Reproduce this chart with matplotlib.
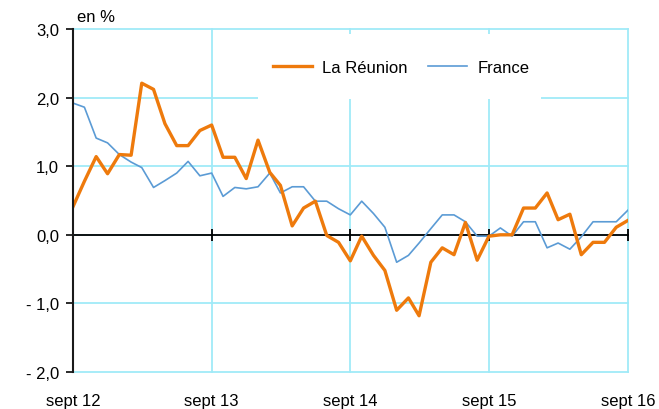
import matplotlib
matplotlib.use("Agg")
import matplotlib.pyplot as plt
import matplotlib.patches as patches
import pandas as pd

# =========================
# Data (monthly, sept 12 -> sept 16)
# =========================
start_month = "2012-09-01"
end_month = "2016-09-01"
reunion = [0.41, 0.78, 1.14, 0.89, 1.17, 1.16, 2.21, 2.12, 1.62, 1.30,
           1.30, 1.52, 1.60, 1.13, 1.13, 0.82, 1.38, 0.91, 0.72, 0.13,
           0.39, 0.49, -0.01, -0.11, -0.38, -0.02, -0.30, -0.52, -1.10, -0.92,
           -1.18, -0.40, -0.19, -0.29, 0.18, -0.37, -0.02, 0.00, 0.00, 0.39,
           0.39, 0.61, 0.22, 0.30, -0.29, -0.11, -0.11, 0.11, 0.21]
france = [1.92, 1.86, 1.41, 1.34, 1.17, 1.06, 0.98, 0.69, 0.79, 0.90,
          1.07, 0.86, 0.90, 0.56, 0.69, 0.67, 0.70, 0.90, 0.61, 0.70,
          0.70, 0.49, 0.49, 0.38, 0.29, 0.49, 0.31, 0.11, -0.40, -0.30,
          -0.12, 0.09, 0.29, 0.29, 0.19, -0.02, -0.02, 0.10, -0.02, 0.19,
          0.19, -0.19, -0.12, -0.21, -0.03, 0.19, 0.19, 0.19, 0.36]
year_labels = ["sept 12", "sept 13", "sept 14", "sept 15", "sept 16"]
y_ticks = [-2, -1, 0, 1, 2, 3]
y_labels = ["- 2,0", "- 1,0", "0,0", "1,0", "2,0", "3,0"]

months = pd.date_range(start_month, end_month, freq="MS")
years = pd.date_range(start_month, end_month, freq="12MS")

# =========================
# Style
# =========================
plt.rcParams["font.family"] = ["Liberation Sans", "DejaVu Sans"]
FS = 12
ORANGE = "#EE7A0C"
BLUE = "#5B9BD5"
GRID = "#A0EAF8"

fig = plt.figure(figsize=(6.59, 4.10), dpi=100)
ax = fig.add_axes([73/659, 37/410, 555/659, 343/410])

ax.set_xlim(months[0], months[-1])
ax.set_ylim(-2, 3)

# grid (edges too, so no clipping)
for y in y_ticks:
    ax.axhline(y, color=GRID, lw=1.3, zorder=1, clip_on=False)
for d in years:
    ax.axvline(d, color=GRID, lw=1.3, zorder=1, clip_on=False)

# white box behind the legend
ax.add_patch(patches.Rectangle((0.333, 0.796), 0.51, 0.19, transform=ax.transAxes,
                               facecolor="white", edgecolor="none", zorder=2))

# zero line with year ticks
ax.axhline(0, color="black", lw=1.3, zorder=3, clip_on=False)
ax.plot(years, [0]*len(years), ls="none", marker="|", ms=8, mew=1.3,
        color="black", zorder=3, clip_on=False)

ax.plot(months, france, color=BLUE, lw=1.2, label="France", zorder=4)
ax.plot(months, reunion, color=ORANGE, lw=2.4, label="La Réunion", zorder=5)

# spines
for s in ["top", "right", "bottom"]:
    ax.spines[s].set_visible(False)
ax.spines["left"].set_color("#1a1a1a")
ax.spines["left"].set_linewidth(1.5)
ax.spines["left"].set_zorder(6)

ax.set_yticks(y_ticks)
ax.set_yticklabels(y_labels, fontsize=FS)
ax.tick_params(axis="y", direction="out", length=5, width=1.3, color="#1a1a1a", pad=5)
ax.set_xticks(years)
ax.set_xticklabels(year_labels, fontsize=FS)
ax.tick_params(axis="x", length=0, pad=15)

# legend
handles, labels = ax.get_legend_handles_labels()
ax.legend(handles[::-1], labels[::-1], loc="center", bbox_to_anchor=(0.591, 0.889),
          ncol=2, frameon=False, fontsize=FS, handlelength=2.35,
          handletextpad=0.6, columnspacing=1.25)

fig.text(77/659, (410-18)/410, "en %", fontsize=FS, va="center", ha="left")

fig.savefig("out.png", dpi=100)
